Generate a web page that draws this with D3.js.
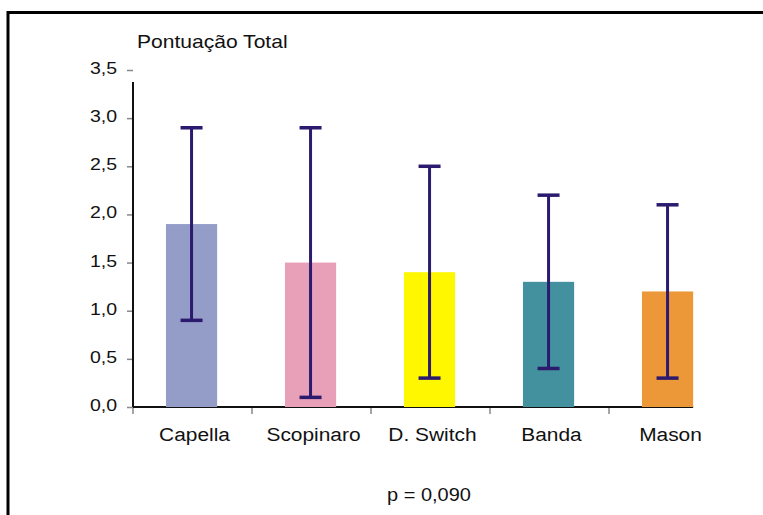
<!DOCTYPE html>
<html>
<head>
<meta charset="utf-8">
<script src="https://cdn.jsdelivr.net/npm/d3@7"></script>
<style>
  html, body { margin: 0; padding: 0; background: #fff; }
  svg { display: block; font-family: 'Liberation Sans', Arial, sans-serif; }
</style>
</head>
<body>
<div id="chart"></div>
<script>
const categories = ['Capella', 'Scopinaro', 'D. Switch', 'Banda', 'Mason'];
const means = [1.9, 1.5, 1.4, 1.3, 1.2];
const errLow = [0.9, 0.1, 0.3, 0.4, 0.3];
const errHigh = [2.9, 2.9, 2.5, 2.2, 2.1];
const barColors = ['#949dc8', '#e8a0b8', '#fff700', '#43909e', '#ed9838'];
const yTicks = [0, 0.5, 1, 1.5, 2, 2.5, 3, 3.5];
const yTitle = 'Pontuação Total';
const note = 'p = 0,090';

const width = 763, height = 515;
const data = categories.map((c, i) => ({
  name: c, mean: means[i], lo: errLow[i], hi: errHigh[i], color: barColors[i],
}));

const svg = d3.select('#chart').append('svg')
  .attr('width', width).attr('height', height);

// frame (top and left edges only)
svg.append('path')
  .attr('d', `M8,${height} V12.5 H${width}`)
  .attr('fill', 'none').attr('stroke', '#000').attr('stroke-width', 3);

const x = d3.scaleBand().domain(categories).range([133, 728]);
const y = d3.scaleLinear().domain([0, 3.5]).range([407, 70]);
const bw = x.bandwidth();
const barW = bw * 0.43;
const barOff = bw * 0.277;

const fmt = d3.format('.1f');

// the source font is drawn wide, so stretch glyphs horizontally
function wideText(sel, px, py, sx) {
  return sel.attr('x', 0).attr('y', 0)
    .attr('transform', (d, i) => `translate(${typeof px === 'function' ? px(d, i) : px},${py}) scale(${sx},1)`);
}

// y axis
const yAxisG = svg.append('g').attr('transform', 'translate(133,0)');
yAxisG.call(d3.axisLeft(y).tickValues(yTicks).tickSize(6).tickFormat(() => ''));
yAxisG.select('.domain').remove();
yAxisG.selectAll('.tick line').attr('stroke', '#888').attr('stroke-width', 1.5);
yAxisG.selectAll('.tick text').remove();
yAxisG.selectAll('.tick').append('text')
  .attr('text-anchor', 'end').attr('fill', '#111').attr('font-size', 16)
  .call(wideText, -16, 3.5, 1.22)
  .text(d => fmt(d).replace('.', ','));
yAxisG.append('line')
  .attr('x1', 0).attr('x2', 0).attr('y1', 82).attr('y2', y(0))
  .attr('stroke', '#111').attr('stroke-width', 2);

// x axis ticks at band starts
const xAxisG = svg.append('g').attr('transform', `translate(0,${y(0)})`);
xAxisG.selectAll('line.xt').data(categories).join('line')
  .attr('class', 'xt')
  .attr('x1', d => x(d)).attr('x2', d => x(d))
  .attr('y1', 1).attr('y2', 7)
  .attr('stroke', '#888').attr('stroke-width', 1.5);
xAxisG.append('line')
  .attr('x1', 133).attr('x2', x(categories[categories.length - 1]) + barOff + barW)
  .attr('y1', 0).attr('y2', 0)
  .attr('stroke', '#111').attr('stroke-width', 2);
xAxisG.selectAll('text.xl').data(categories).join('text')
  .attr('class', 'xl')
  .attr('text-anchor', 'middle')
  .attr('fill', '#111').attr('font-size', 19)
  .call(wideText, d => x(d) + bw / 2 + 2, 34, 1.1)
  .text(d => d);

// bars
svg.append('g').selectAll('rect').data(data).join('rect')
  .attr('x', d => x(d.name) + barOff)
  .attr('width', barW)
  .attr('y', d => y(d.mean))
  .attr('height', d => y(0) - y(d.mean))
  .attr('fill', d => d.color);

// error bars
const eg = svg.append('g').attr('stroke', '#2b1a6e').attr('fill', 'none');
const cx = d => x(d.name) + barOff + barW / 2;
eg.selectAll('line.ev').data(data).join('line')
  .attr('class', 'ev')
  .attr('x1', cx).attr('x2', cx)
  .attr('y1', d => y(d.hi)).attr('y2', d => y(d.lo))
  .attr('stroke-width', 3);
eg.selectAll('line.ct').data(data).join('line')
  .attr('class', 'ct')
  .attr('x1', d => cx(d) - 11).attr('x2', d => cx(d) + 11)
  .attr('y1', d => y(d.hi)).attr('y2', d => y(d.hi))
  .attr('stroke-width', 3.5);
eg.selectAll('line.cb').data(data).join('line')
  .attr('class', 'cb')
  .attr('x1', d => cx(d) - 11).attr('x2', d => cx(d) + 11)
  .attr('y1', d => y(d.lo)).attr('y2', d => y(d.lo))
  .attr('stroke-width', 3.5);

// titles
svg.append('text')
  .attr('fill', '#111').attr('font-size', 18)
  .call(wideText, 137, 48, 1.17)
  .text(yTitle);

svg.append('text')
  .attr('text-anchor', 'middle')
  .attr('fill', '#111').attr('font-size', 18)
  .call(wideText, 429, 501, 1.11)
  .text(note);
</script>
</body>
</html>
